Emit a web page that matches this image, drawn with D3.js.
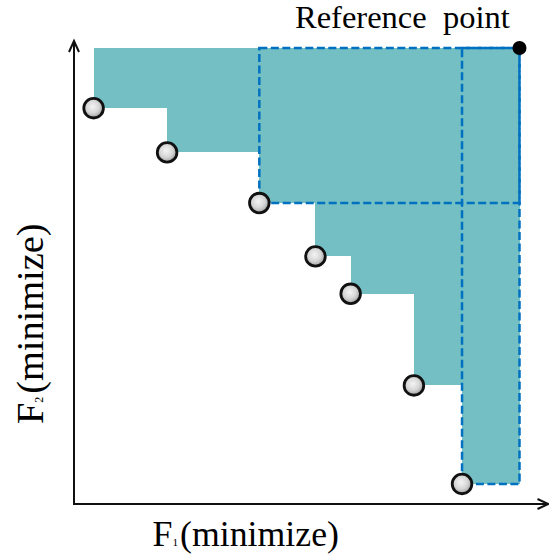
<!DOCTYPE html>
<html>
<head>
<meta charset="utf-8">
<script src="https://cdn.jsdelivr.net/npm/d3@7"></script>
<style>
  html, body { margin: 0; padding: 0; background: #fff; }
  svg { display: block; }
  .serif { font-family: "Liberation Serif", "Times New Roman", serif; }
</style>
</head>
<body>
<svg id="chart" width="549" height="558"></svg>
<script>
// ---- data (abstract objective units, reference point at 100,100) ----
const f1Values = [4.4, 20.9, 41.6, 54.2, 62.1, 76.3, 87.1];
const f2Values = [86.8, 77.1, 66.0, 54.3, 46.1, 26.0, 4.4];
const referencePoint = [100, 100];
const highlightedPoints = [2, 6];   // indices of points whose dominated boxes are outlined
const xLabelMain = "F", xLabelSub = "1", xLabelRest = "(minimize)";
const yLabelMain = "F", yLabelSub = "2", yLabelRest = "(minimize)";
const refLabelWords = ["Reference", "point"];

// ---- layout ----
const svg = d3.select("#chart");
const x = d3.scaleLinear().domain([0, 100]).range([74, 519.5]);
const y = d3.scaleLinear().domain([0, 100]).range([504, 48]);
const xAxisEnd = 548.5, yAxisEnd = 41;

const teal = "#73bfc4", blue = "#0070c0";

const defs = svg.append("defs");
const grad = defs.append("radialGradient").attr("id", "ball")
  .attr("cx", "45%").attr("cy", "42%").attr("r", "60%");
grad.append("stop").attr("offset", "0%").attr("stop-color", "#f4f4f4");
grad.append("stop").attr("offset", "55%").attr("stop-color", "#d6d6d6");
grad.append("stop").attr("offset", "100%").attr("stop-color", "#9a9a9a");

const pts = f1Values.map((v, i) => ({ f1: v, f2: f2Values[i] }));

// dominated region: union of boxes from each point to the reference point
svg.append("g").selectAll("rect").data(pts).join("rect")
  .attr("x", d => x(d.f1))
  .attr("y", y(referencePoint[1]))
  .attr("width", d => x(referencePoint[0]) - x(d.f1))
  .attr("height", d => y(d.f2) - y(referencePoint[1]))
  .attr("fill", teal)
  .attr("shape-rendering", "crispEdges");

// dashed outlined boxes
svg.append("g").selectAll("rect").data(highlightedPoints.map(i => pts[i])).join("rect")
  .attr("x", d => x(d.f1))
  .attr("y", y(referencePoint[1]))
  .attr("width", d => x(referencePoint[0]) - x(d.f1))
  .attr("height", d => y(d.f2) - y(referencePoint[1]))
  .attr("fill", "none")
  .attr("stroke", blue)
  .attr("stroke-width", 2.5)
  .attr("stroke-dasharray", "8,3.5");

// axes
const ax = svg.append("g").attr("stroke", "#111").attr("stroke-width", 2).attr("fill", "none");
ax.append("line").attr("x1", x(0)).attr("y1", y(0)).attr("x2", x(0)).attr("y2", yAxisEnd + 1);
ax.append("line").attr("x1", x(0) - 1).attr("y1", y(0)).attr("x2", xAxisEnd - 1).attr("y2", y(0));
ax.append("path").attr("d", `M${x(0) - 5},${yAxisEnd + 11} L${x(0)},${yAxisEnd} L${x(0) + 5},${yAxisEnd + 11}`);
ax.append("path").attr("d", `M${xAxisEnd - 11},${y(0) - 5} L${xAxisEnd},${y(0)} L${xAxisEnd - 11},${y(0) + 5}`);

// points
svg.append("g").selectAll("circle").data(pts).join("circle")
  .attr("cx", d => x(d.f1))
  .attr("cy", d => y(d.f2))
  .attr("r", 9.8)
  .attr("fill", "url(#ball)")
  .attr("stroke", "#111")
  .attr("stroke-width", 2.8);

// reference point
svg.append("circle")
  .attr("cx", x(referencePoint[0])).attr("cy", y(referencePoint[1]))
  .attr("r", 7).attr("fill", "#000");

// text helper: fits text to a target length along its direction
function fitText(g, targetLen) {
  const t = g.select("text");
  const w = t.node().getComputedTextLength();
  t.attr("transform", `scale(${targetLen / w},1)`);
}

// reference label (wide word gap as in the original)
const rt = svg.append("text").attr("class", "serif").attr("font-size", 32.5).attr("fill", "#000")
  .attr("y", 27.5);
rt.append("tspan").attr("x", 295).text(refLabelWords[0]);
rt.append("tspan").attr("x", 443).text(refLabelWords[1]);

// x label
const xl = svg.append("g").attr("transform", "translate(152.5,546)");
const xt = xl.append("text").attr("class", "serif").attr("font-size", 35).attr("fill", "#000");
xt.append("tspan").text(xLabelMain);
xt.append("tspan").attr("font-size", 11).text(xLabelSub);
xt.append("tspan").attr("dx", 2).text(xLabelRest);
fitText(xl, 184.5);

// y label
const yl = svg.append("g").attr("transform", "translate(42.5,424) rotate(-90)");
const yt = yl.append("text").attr("class", "serif").attr("font-size", 38.5).attr("fill", "#000");
yt.append("tspan").text(yLabelMain);
yt.append("tspan").attr("font-size", 12).text(yLabelSub);
yt.append("tspan").attr("dx", 3).text(yLabelRest);
fitText(yl, 197.5);
</script>
</body>
</html>
